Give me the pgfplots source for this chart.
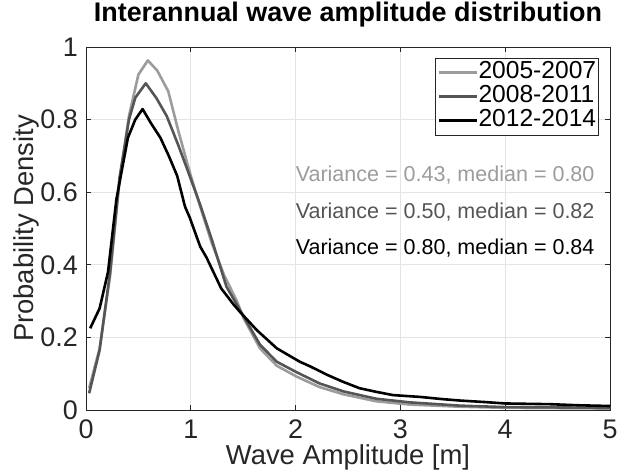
\documentclass[border=0pt]{standalone}
\usepackage{fontspec}
\setmainfont{Liberation Sans}
\usepackage{pgfplots}
\pgfplotsset{compat=1.18}
\definecolor{lg}{RGB}{156,156,156}
\definecolor{dg}{RGB}{85,85,85}
\definecolor{ax}{RGB}{38,38,38}
\definecolor{gridc}{RGB}{228,228,228}
\begin{document}
\begin{tikzpicture}
\useasboundingbox (-86bp,-60bp) rectangle (533bp,410bp);
\begin{axis}[
  at={(0,0)}, anchor=south west,
  scale only axis,
  width=524bp, height=363bp,
  xmin=0, xmax=5, ymin=0, ymax=1,
  xtick={0,1,2,3,4,5}, ytick={0,0.2,0.4,0.6,0.8,1},
  /pgf/number format/assume math mode=true,
  yticklabel style={/pgf/number format/fixed,/pgf/number format/precision=1,
    anchor=east, inner sep=0pt, xshift=-8bp},
  xticklabel style={anchor=base, inner sep=0pt, yshift=-28bp},
  tick label style={font=\fontsize{27}{30}\selectfont, text=ax},
  grid=major,
  major grid style={gridc, line width=0.8pt},
  axis line style={ax, line width=0.8pt},
  tick style={ax, line width=0.8pt},
  tick align=inside,
  major tick length=5bp,
  title={\bfseries Interannual wave amplitude distribution},
  title style={font=\fontsize{27}{30}\selectfont, at={(axis description cs:0.5,1.0551)}, anchor=base, inner sep=0pt},
  xlabel={Wave Amplitude [m]},
  ylabel={Probability Density},
  label style={font=\fontsize{27.5}{30}\selectfont, text=ax},
  xlabel style={at={(axis description cs:0.5,-0.149)}, anchor=base, inner sep=0pt},
  ylabel style={at={(axis description cs:-0.1011,0.5)}, anchor=base, inner sep=0pt},
  legend style={at={(rel axis cs:0.979,0.970)}, anchor=north east,
    font=\fontsize{24.7}{26}\selectfont, draw=ax, line width=0.6pt,
    inner sep=2.5bp, row sep=0pt, column sep=0pt,
    nodes={inner sep=0pt, text height=18bp, text depth=6bp},
    cells={anchor=west}},
  legend image code/.code={\draw[#1, line width=2.6bp] (0bp,0bp) -- (38bp,0bp);},
  every axis plot/.append style={line width=2.6bp, line join=round},
]
\addplot[lg] coordinates {
(0.03,0.06) (0.13,0.17) (0.23,0.37) (0.32,0.63) (0.41,0.81) (0.50,0.924)
(0.59,0.963) (0.68,0.935) (0.785,0.878) (0.88,0.77) (0.99,0.655)
(1.09,0.56) (1.20,0.46) (1.32,0.37) (1.44,0.30) (1.50,0.255) (1.66,0.17)
(1.82,0.122) (2.01,0.092) (2.23,0.063) (2.46,0.043) (2.77,0.024)
(3.09,0.015) (3.57,0.009) (4.0,0.006) (4.5,0.005) (5.0,0.004)};
\addlegendentry{2005-2007}
\addplot[dg] coordinates {
(0.03,0.046) (0.13,0.165) (0.23,0.38) (0.32,0.64) (0.41,0.80) (0.47,0.86)
(0.57,0.90) (0.67,0.86) (0.77,0.81) (0.88,0.73) (0.97,0.66) (1.09,0.565)
(1.20,0.47) (1.34,0.34) (1.50,0.26) (1.66,0.18) (1.82,0.133) (2.01,0.104)
(2.23,0.073) (2.46,0.051) (2.77,0.031) (3.09,0.021) (3.57,0.012)
(4.0,0.008) (4.5,0.007) (5.0,0.006)};
\addlegendentry{2008-2011}
\addplot[black] coordinates {
(0.04,0.225) (0.13,0.28) (0.21,0.38) (0.29,0.58) (0.40,0.75) (0.47,0.80)
(0.54,0.829) (0.62,0.79) (0.71,0.75) (0.79,0.70) (0.87,0.645) (0.945,0.56)
(0.99,0.53) (1.09,0.45) (1.15,0.42) (1.29,0.335) (1.41,0.29) (1.47,0.27)
(1.63,0.22) (1.82,0.17) (1.98,0.143) (2.04,0.133) (2.14,0.12) (2.30,0.097)
(2.45,0.078) (2.61,0.06) (2.77,0.05) (2.93,0.041) (3.19,0.036) (3.40,0.03)
(3.57,0.026) (3.80,0.022) (4.0,0.018) (4.43,0.016) (4.7,0.013) (5.0,0.011)};
\addlegendentry{2012-2014}
\node[anchor=base west, text=lg, font=\fontsize{21.6}{24}\selectfont, inner sep=0pt] at (axis cs:2.0,0.629) {Variance = 0.43, median = 0.80};
\node[anchor=base west, text=dg, font=\fontsize{21.6}{24}\selectfont, inner sep=0pt] at (axis cs:2.0,0.528) {Variance = 0.50, median = 0.82};
\node[anchor=base west, text=black, font=\fontsize{21.6}{24}\selectfont, inner sep=0pt] at (axis cs:2.0,0.427) {Variance = 0.80, median = 0.84};
\end{axis}
\end{tikzpicture}
\end{document}
